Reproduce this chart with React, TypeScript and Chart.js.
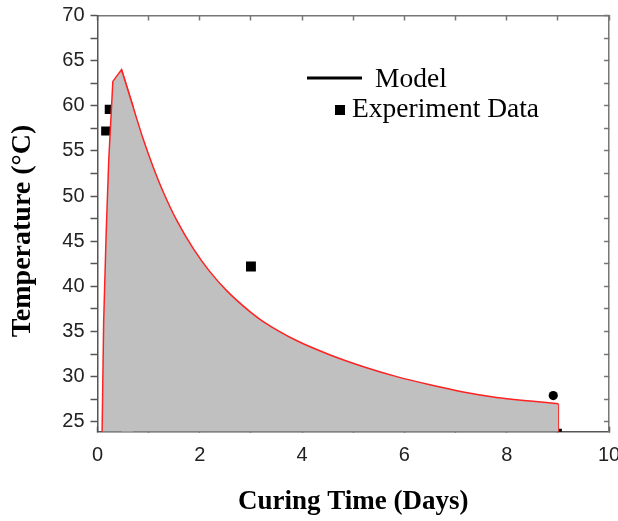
import React, { useEffect, useRef } from "react";
import { Chart, registerables } from "chart.js";

Chart.register(...registerables);

// ---- Data ----
// Model: heating ramp up to the peak (straight segments)
const modelRiseDays = [0.09, 0.12, 0.17, 0.22, 0.30, 0.47, 0.70];
const modelRiseTemp = [23.9, 36.0, 46.0, 54.0, 62.7, 64.0, 59.8];
// Model: cooling curve after the peak (smooth)
const modelDecayDays = [0.47, 0.70, 0.90, 1.09, 1.29, 1.55, 1.87, 2.20, 2.53, 2.98, 3.24, 3.89, 4.55, 5.20, 5.85, 6.50, 7.15, 7.80, 8.46, 9.01];
const modelDecayTemp = [64.0, 59.8, 56.2, 53.2, 50.4, 47.3, 44.2, 41.6, 39.5, 37.2, 36.1, 34.0, 32.4, 31.1, 30.0, 29.1, 28.3, 27.7, 27.3, 27.0];
// Model: vertical drop at the end of the run
const modelEndDays = [9.01, 9.01];
const modelEndTemp = [27.0, 23.9];

const expDays = [0.16, 0.23, 3.0, 8.91, 9.04];
const expTemp = [57.2, 59.6, 42.2, 27.9, 24.0];
const expMarker = ["rect", "rect", "rect", "circle", "rect"];
const expMarkerSize = [6.4, 6.4, 7.0, 4.6, 2.8];

const xTickValues = [0, 1, 2, 3, 4, 5, 6, 7, 8, 9, 10];
const xLabelValues = [0, 2, 4, 6, 8, 10];
const yTickValues = [25, 27.5, 30, 32.5, 35, 37.5, 40, 42.5, 45, 47.5, 50, 52.5, 55, 57.5, 60, 62.5, 65, 67.5, 70];
const yLabelValues = [25, 30, 35, 40, 45, 50, 55, 60, 65, 70];

const X_MIN = 0;
const X_MAX = 10;
const Y_MIN = 23.9;
const Y_MAX = 70;

const xTitle = "Curing Time (Days)";
const yTitle = "Temperature (°C)";
const legendModel = "Model";
const legendExp = "Experiment Data";

const W = 618;
const H = 521;

const setTicks = (values: number[]) => (scale: any) => {
  scale.ticks = values.map((v) => ({ value: v }));
};

const noOverflow = (s: any) => {
  s.paddingLeft = 0;
  s.paddingRight = 0;
  s.paddingTop = 0;
  s.paddingBottom = 0;
};

const toPoints = (xs: number[], ys: number[]) => xs.map((x, i) => ({ x, y: ys[i] }));

const overlayPlugin = {
  id: "manualOverlay",
  afterDraw(chart: any) {
    const ctx = chart.ctx;
    ctx.save();
    ctx.fillStyle = "#000";
    ctx.strokeStyle = "#000";
    // y-axis title
    ctx.save();
    ctx.translate(23, 231);
    ctx.rotate(-Math.PI / 2);
    ctx.font = 'bold 28px "Liberation Serif", "Times New Roman", serif';
    ctx.textAlign = "center";
    ctx.textBaseline = "middle";
    ctx.fillText(yTitle, 0, 0);
    ctx.restore();
    // legend: line sample
    ctx.lineWidth = 3;
    ctx.beginPath();
    ctx.moveTo(307, 78);
    ctx.lineTo(362, 78);
    ctx.stroke();
    ctx.font = '27.5px "Liberation Serif", "Times New Roman", serif';
    ctx.textBaseline = "alphabetic";
    ctx.textAlign = "left";
    ctx.fillText(legendModel, 375, 87);
    // legend: square sample
    ctx.fillRect(335, 105, 10, 10);
    ctx.fillText(legendExp, 352, 117);
    ctx.restore();
  },
};

export default function App() {
  const canvasRef = useRef<HTMLCanvasElement | null>(null);

  useEffect(() => {
    document.body.style.margin = "0";
    const canvas = canvasRef.current;
    if (!canvas) return;

    const axisColor = "#555";
    const frameColor = "#777";
    const red = "#ff2222";
    const fillGray = "#c0c0c0";
    const tickFont = { family: '"Liberation Sans", Arial, sans-serif', size: 20 };
    const titleFont = { family: '"Liberation Serif", "Times New Roman", serif', size: 27, weight: "bold" as const };

    const chart = new Chart(canvas, {
      type: "line",
      data: {
        datasets: [
          {
            label: legendModel,
            data: toPoints(modelDecayDays, modelDecayTemp),
            borderColor: red,
            borderWidth: 1.5,
            backgroundColor: fillGray,
            fill: "start",
            pointRadius: 0,
            cubicInterpolationMode: "monotone",
            order: 0,
          },
          {
            label: legendModel + " (end)",
            data: toPoints(modelEndDays, modelEndTemp),
            borderColor: red,
            borderWidth: 1.5,
            fill: false,
            pointRadius: 0,
            tension: 0,
            order: 0,
          },
          {
            label: legendModel + " (rise)",
            data: toPoints(modelRiseDays, modelRiseTemp),
            borderColor: red,
            borderWidth: 1.5,
            backgroundColor: fillGray,
            fill: "start",
            pointRadius: 0,
            tension: 0,
            order: 1,
          },
          {
            label: legendExp,
            data: toPoints(expDays, expTemp),
            showLine: false,
            pointStyle: expMarker as any,
            pointRadius: expMarkerSize,
            pointBackgroundColor: "#000",
            pointBorderColor: "#000",
            pointBorderWidth: 0,
            order: 2,
          },
        ],
      },
      options: {
        animation: false,
        responsive: false,
        devicePixelRatio: 1,
        layout: { padding: 0 },
        plugins: {
          legend: { display: false },
          tooltip: { enabled: false },
        },
        scales: {
          x: {
            type: "linear",
            position: "bottom",
            min: X_MIN,
            max: X_MAX,
            afterBuildTicks: setTicks(xTickValues),
            afterFit: (s: any) => {
              s.height = H - 431.7;
              noOverflow(s);
            },
            ticks: {
              autoSkip: false,
              maxRotation: 0,
              padding: 17,
              color: "#222",
              font: tickFont,
              callback: (v: any) => (xLabelValues.includes(Number(v)) ? String(v) : ""),
            },
            grid: {
              drawOnChartArea: false,
              drawTicks: true,
              tickLength: -5,
              tickColor: axisColor,
              tickWidth: 1.5,
            },
            border: { display: true, color: axisColor, width: 1.5 },
            title: {
              display: true,
              text: xTitle,
              color: "#000",
              font: titleFont,
              padding: { top: 0, bottom: 3 },
            },
          },
          x2: {
            type: "linear",
            position: "top",
            min: X_MIN,
            max: X_MAX,
            afterBuildTicks: setTicks(xTickValues),
            afterFit: (s: any) => {
              s.height = 15.5;
              noOverflow(s);
            },
            ticks: { display: false },
            grid: {
              drawOnChartArea: false,
              drawTicks: true,
              tickLength: -5,
              tickColor: frameColor,
              tickWidth: 1.5,
            },
            border: { display: true, color: frameColor, width: 1.5 },
          },
          y: {
            type: "linear",
            position: "left",
            min: Y_MIN,
            max: Y_MAX,
            afterBuildTicks: setTicks(yTickValues),
            afterFit: (s: any) => {
              s.width = 97.5;
              noOverflow(s);
            },
            ticks: {
              autoSkip: false,
              padding: 6,
              color: "#222",
              font: tickFont,
              callback: (v: any) => (yLabelValues.includes(Number(v)) ? String(v) : ""),
            },
            grid: {
              drawOnChartArea: false,
              drawTicks: true,
              tickLength: 7,
              tickColor: axisColor,
              tickWidth: 1.5,
            },
            border: { display: true, color: axisColor, width: 1.5 },
          },
          y2: {
            type: "linear",
            position: "right",
            min: Y_MIN,
            max: Y_MAX,
            afterBuildTicks: setTicks(yTickValues),
            afterFit: (s: any) => {
              s.width = W - 609;
              noOverflow(s);
            },
            ticks: { display: false },
            grid: {
              drawOnChartArea: false,
              drawTicks: true,
              tickLength: -5,
              tickColor: frameColor,
              tickWidth: 1.5,
            },
            border: { display: true, color: frameColor, width: 1.5 },
          },
        },
      },
      plugins: [overlayPlugin],
    });

    return () => {
      chart.destroy();
    };
  }, []);

  return (
    <div style={{ width: W, height: H, background: "#fff" }}>
      <canvas ref={canvasRef} width={W} height={H} style={{ display: "block" }} />
    </div>
  );
}
